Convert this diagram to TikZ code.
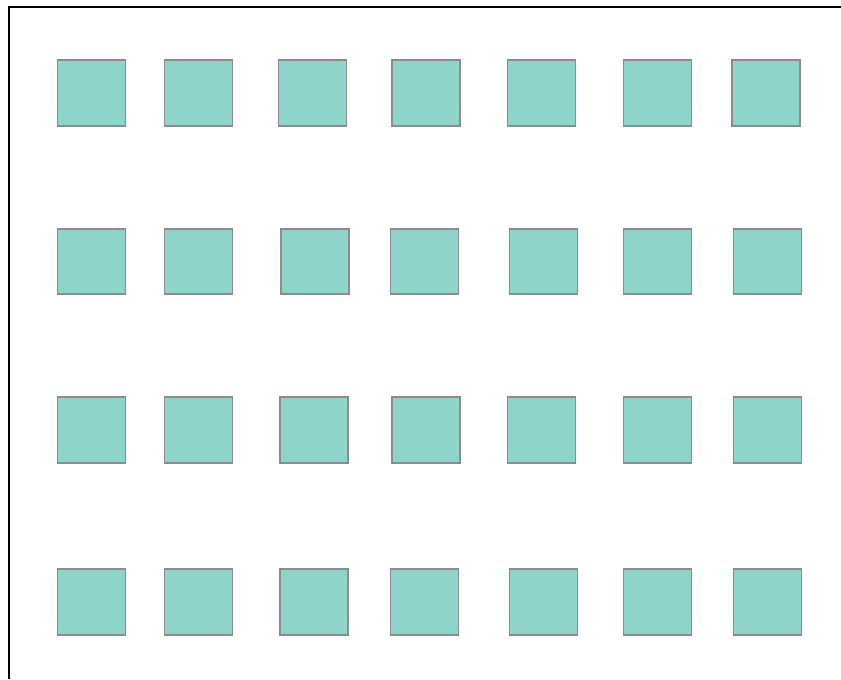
\documentclass[tikz,border=0pt]{standalone}
\usepackage{xcolor}
\usepackage{tikz}
\definecolor{tealfill}{HTML}{8FD4CB}
\definecolor{edgegray}{HTML}{8C8C8C}

\begin{document}
\begin{tikzpicture}[x=0.02cm, y=-0.02cm]
      \useasboundingbox (0,0) rectangle (841,679);
      \coordinate (frameBL) at (9,679);
      \coordinate (frameTL) at (9,7);
      \coordinate (frameTR) at (841,7);
      \draw[line width=1.2pt] (frameBL) -- (frameTL) -- (frameTR);
      \foreach \r/\y/\xs in {1/93/{91.5,198.5,312.5,426,541.5,657.5,766},
                             2/261.5/{91.5,198.5,315,424.5,543.5,657.5,767.5},
                             3/430/{91.5,198.5,314,426,541.5,657.5,767.5},
                             4/602/{91.5,198.5,314,424.5,543.5,657.5,767.5}} {
        \foreach \x [count=\c] in \xs {
          \node[draw=edgegray, line width=1pt, fill=tealfill, inner sep=0pt, minimum width=1.36cm, minimum height=1.31cm] (sq\r-\c) at (\x,\y) {};
        }
      }
    \end{tikzpicture}
\end{document}
